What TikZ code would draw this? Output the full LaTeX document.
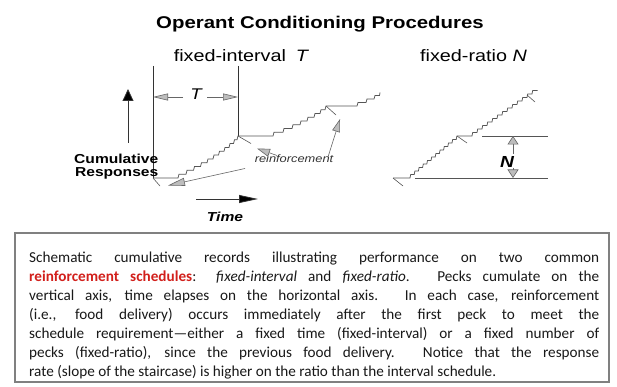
\documentclass[tikz,border=0pt]{standalone}
\usepackage{fontspec}
\usepackage{graphicx}
\setmainfont{Carlito}
\newfontfamily\arialf{Liberation Sans}
\usetikzlibrary{arrows.meta}
\definecolor{linec}{HTML}{555555}
\definecolor{darkln}{HTML}{333333}
\definecolor{headfill}{HTML}{BDBDBD}
\definecolor{headdraw}{HTML}{666666}
\definecolor{redtxt}{HTML}{D21F1B}
\definecolor{boxc}{HTML}{808080}
\newcommand{\sx}[1]{\scalebox{1.2}[1]{#1}}
\begin{document}
\begin{tikzpicture}[x=1pt,y=-1pt,
  txt/.style={inner sep=0pt, anchor=base},
  rec/.style={draw=linec, line width=0.75pt, line join=miter},
  vline/.style={draw=darkln, line width=0.8pt},
  tick/.style={draw=linec, line width=0.6pt},
  garr/.style={draw=headdraw, line width=0.6pt, -{Triangle[length=#1,width=8pt,fill=headfill]}},
  garr/.default=13pt,
  tarr/.style={draw=headdraw, line width=0.6pt, -{Triangle[length=15pt,width=7pt,fill=headfill]}},
  narr/.style={draw=headdraw, line width=0.6pt, -{Triangle[length=8.5pt,width=11pt,fill=headfill]}},
  uparr/.style={draw=darkln, line width=0.8pt, -{Triangle[length=12pt,width=11pt,fill=black]}},
  timearr/.style={draw=darkln, line width=0.8pt, -{Triangle[length=19pt,width=8pt,fill=black]}},
  refln/.style={draw=linec, line width=0.75pt}
]
\useasboundingbox[fill=white] (0,0) rectangle (617,387);

% ---------- titles ----------
\node[txt] (title) at (320,28.5) {\sx{\arialf\bfseries\fontsize{17}{20}\selectfont Operant Conditioning Procedures}};
\node[txt] (fihead) at (241.5,62) {\sx{\arialf\fontsize{16.5}{20}\selectfont fixed-interval\hspace{0.5em}\textit{T}}};
\node[txt] (frhead) at (473.5,62) {\sx{\arialf\fontsize{16.5}{20}\selectfont fixed-ratio \textit{N}}};

% ---------- fixed-interval panel ----------
\coordinate (v1t) at (153,66);
\coordinate (v1b) at (153,178);
\coordinate (v2t) at (238,66);
\coordinate (v2b) at (238,136);
\draw[vline] (v1t) -- (v1b);
\draw[vline] (v2t) -- (v2b);

\node[txt] (tlab) at (196,100) {\sx{\arialf\itshape\fontsize{15.5}{18}\selectfont T}};
\coordinate (tL) at (153,97);
\coordinate (tLs) at (183,97);
\coordinate (tR) at (238,97);
\coordinate (tRs) at (207,97);
\draw[tarr] (tLs) -- (tL);
\draw[tarr] (tRs) -- (tR);

\coordinate (ua0) at (128,143);
\coordinate (ua1) at (128,89);
\draw[uparr] (ua0) -- (ua1);

\node[txt, anchor=base east] (cum1) at (158.5,163.3) {\sx{\arialf\bfseries\fontsize{13}{15}\selectfont Cumulative}};
\node[txt, anchor=base east] (cum2) at (158.5,176.5) {\sx{\arialf\bfseries\fontsize{13}{15}\selectfont Responses}};

\coordinate (ta0) at (196,199);
\coordinate (ta1) at (258,199);
\draw[timearr] (ta0) -- (ta1);
\node[txt] (time) at (225,221.5) {\sx{\arialf\bfseries\itshape\fontsize{13}{15}\selectfont Time}};

% FI record
\coordinate (fi0) at (153,178);
\coordinate (fi1) at (178,178);
\coordinate (fi2) at (273,136);
\coordinate (fi3) at (357,106);
\draw[rec] (fi0) -- (fi1)
  \foreach \t in {7,6.5,6,5.5,5,4.5,4.5,4,3.5,2.5} { -- ++(1,-3.82) -- ++(\t,0) }
  -- ++(1,-3.82) -- (fi2)
  \foreach \t in {9,8,7,6,6,5,4} { -- ++(1,-3.75) -- ++(\t,0) }
  -- ++(1,-3.75) -- (fi3)
  -- ++(1,-3.5) -- ++(8,0) -- ++(1,-3.5) -- ++(7,0) -- ++(1,-3.5) -- ++(4.5,0) -- ++(0.5,-3);

% reinforcement ticks (FI)
\coordinate (r0) at (153,178);   \coordinate (r0e) at (160,186);
\coordinate (r1) at (238,136);   \coordinate (r1e) at (251,143.5);
\coordinate (r2) at (326,106);   \coordinate (r2e) at (336,115);
\draw[tick] (r0) -- (r0e);
\draw[tick] (r1) -- (r1e);
\draw[tick] (r2) -- (r2e);

% reinforcement label and arrows
\node[txt] (reinf) at (294,162.5) {\sx{\arialf\itshape\fontsize{10.7}{13}\selectfont\color{darkln} reinforcement}};
\coordinate (aA0) at (277,155.5);  \coordinate (aA1) at (257,148.5);
\coordinate (aB0) at (328,157);    \coordinate (aB1) at (340,119);
\coordinate (aC0) at (245,168.5);  \coordinate (aC1) at (168,185.5);
\draw[garr] (aA0) -- (aA1);
\draw[garr] (aB0) -- (aB1);
\draw[garr=17pt] (aC0) -- (aC1);

% ---------- fixed-ratio panel ----------
\coordinate (fr0) at (393,178);
\coordinate (fr1) at (410,178);
\coordinate (fr2) at (472,136);
\draw[rec] (fr0) -- (fr1)
  \foreach \i in {1,...,11} { -- ++(0.7,-3.5) -- ++(3.5,0) }
  -- ++(0.7,-3.5) -- (fr2)
  \foreach \i in {1,...,12} { -- ++(0.7,-3.5) -- ++(4.3,0) }
  -- ++(0.7,-3.5) -- ++(5,0);

\coordinate (q0) at (393,178);  \coordinate (q0e) at (403,186);
\coordinate (q1) at (457,136);  \coordinate (q1e) at (467,143);
\coordinate (q2) at (527,95);   \coordinate (q2e) at (535,102);
\draw[tick] (q0) -- (q0e);
\draw[tick] (q1) -- (q1e);
\draw[tick] (q2) -- (q2e);

\coordinate (rl0a) at (415,178); \coordinate (rl0b) at (548,178);
\coordinate (rl1a) at (482,136); \coordinate (rl1b) at (548,136);
\draw[refln] (rl0a) -- (rl0b);
\draw[refln] (rl1a) -- (rl1b);

\node[txt] (nlab) at (507,167.7) {\sx{\arialf\bfseries\itshape\fontsize{16}{18}\selectfont N}};
\coordinate (nU0) at (513,154);  \coordinate (nU1) at (513,136);
\coordinate (nD0) at (513,168);  \coordinate (nD1) at (513,178);
\draw[narr] (nU0) -- (nU1);
\draw[narr] (nD0) -- (nD1);

% ---------- caption box ----------
\draw[draw=boxc, line width=1.1pt] (15,233) rectangle (609,382);
\node[anchor=base west, inner sep=0pt] (para) at (29,252) {\parbox[t]{570pt}{%
\fontsize{15.2}{19}\selectfont\tolerance=10000 \hbadness=10000 \hyphenpenalty=10000 \exhyphenpenalty=10000 \parindent=0pt\color{black!90}%
Schematic cumulative records illustrating performance on two common\linebreak
{\color{redtxt}\bfseries reinforcement schedules}: \textit{fixed-interval} and \textit{fixed-ratio}.  Pecks cumulate on the\linebreak
vertical axis, time elapses on the horizontal axis.  In each case, reinforcement\linebreak
(i.e., food delivery) occurs immediately after the first peck to meet the\linebreak
schedule requirement—either a fixed time (fixed-interval) or a fixed number of\linebreak
pecks (fixed-ratio), since the previous food delivery.  Notice that the response\linebreak
rate (slope of the staircase) is higher on the ratio than the interval schedule.}};
\end{tikzpicture}
\end{document}
